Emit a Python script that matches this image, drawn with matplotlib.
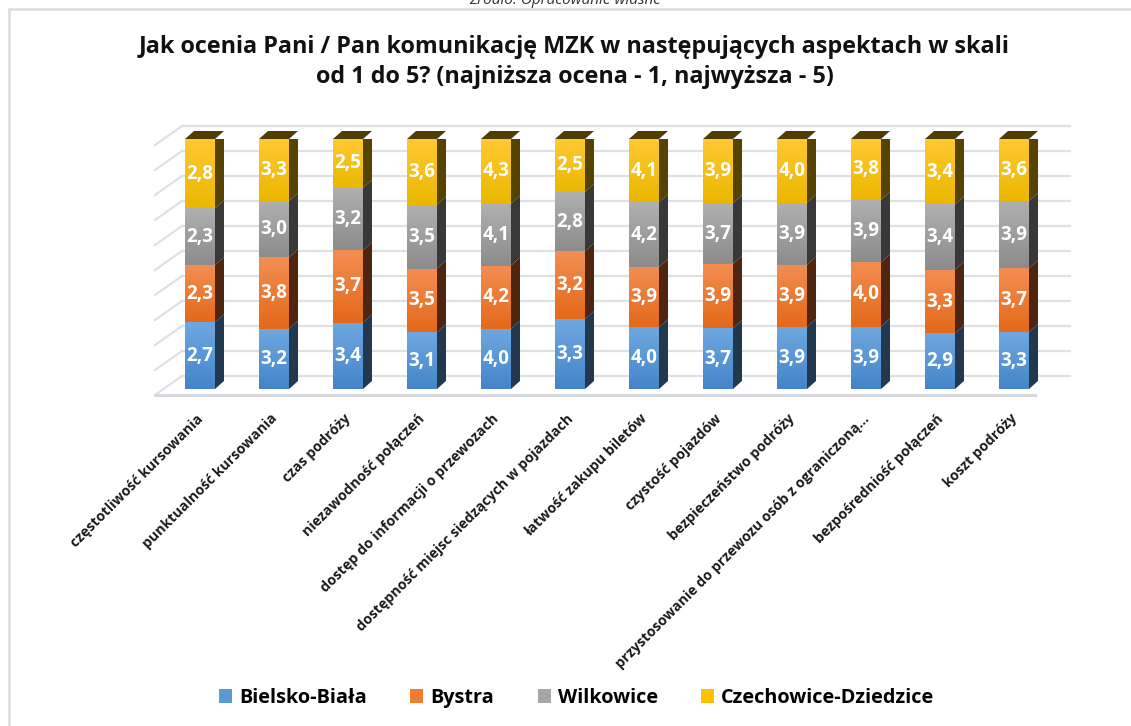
import numpy as np
import matplotlib
matplotlib.use('Agg')
import matplotlib.pyplot as plt
import matplotlib.transforms as mtransforms
from matplotlib.patches import Polygon, Rectangle

# Data (average rating 1-5 per town)
categories = [
    'częstotliwość kursowania',
    'punktualność kursowania',
    'czas podróży',
    'niezawodność połączeń',
    'dostęp do informacji o przewozach',
    'dostępność miejsc siedzących w pojazdach',
    'łatwość zakupu biletów',
    'czystość pojazdów',
    'bezpieczeństwo podróży',
    'przystosowanie do przewozu osób z ograniczoną…',
    'bezpośredniość połączeń',
    'koszt podróży',
]
series_names = ['Bielsko-Biała', 'Bystra', 'Wilkowice', 'Czechowice-Dziedzice']
bielsko = [2.7, 3.2, 3.4, 3.1, 4.0, 3.3, 4.0, 3.7, 3.9, 3.9, 2.9, 3.3]
bystra = [2.3, 3.8, 3.7, 3.5, 4.2, 3.2, 3.9, 3.9, 3.9, 4.0, 3.3, 3.7]
wilkowice = [2.3, 3.0, 3.2, 3.5, 4.1, 2.8, 4.2, 3.7, 3.9, 3.9, 3.4, 3.9]
czechowice = [2.8, 3.3, 2.5, 3.6, 4.3, 2.5, 4.1, 3.9, 4.0, 3.8, 3.4, 3.6]

title = ('Jak ocenia Pani / Pan komunikację MZK w następujących aspektach w skali\n'
         'od 1 do 5? (najniższa ocena - 1, najwyższa - 5)')
source = 'Źródło: Opracowanie własne'

# colours: (top of gradient, bottom of gradient, side face)
colors = [
    ('#6FA8E0', '#4485C8', '#22384F'),
    ('#F28E52', '#E4691A', '#4E2610'),
    ('#B0B0B0', '#8C8C8C', '#383838'),
    ('#FFC933', '#EBB700', '#574300'),
]
legend_colors = ['#5B9BD5', '#ED7D31', '#A5A5A5', '#FFC000']
top_face = '#4F3D05'

plt.rcParams['font.family'] = ['Open Sans', 'DejaVu Sans']

DPI = 100
W, H = 1131, 726
fig = plt.figure(figsize=(W / DPI, H / DPI), dpi=DPI)
fig.patch.set_facecolor('white')

# chart area border (runs off the right/bottom edge)
fig.patches.append(Rectangle((9 / W, -0.1), 1.2, 1 - 9 / H + 0.1, transform=fig.transFigure,
                             facecolor='white', edgecolor='#D9DCE1', lw=1.8, zorder=-5))

ax = fig.add_axes([163 / W, 1 - 389 / H, 888 / W, 250 / H])
ax.set_xlim(-0.5, 11.5)
ax.set_ylim(0, 100)
ax.axis('off')

data = np.array([bielsko, bystra, wilkowice, czechowice])
pct = data / data.sum(axis=0) * 100
x = np.arange(len(categories))

px_x = 888 / 12.0   # pixels per x unit
px_y = 250 / 100.0  # pixels per y unit


def shifted(dx_px, dy_px):
    return ax.transData + mtransforms.ScaledTranslation(dx_px / DPI, dy_px / DPI, fig.dpi_scale_trans)


# gridlines: back wall, left wall and floor
grid_col = '#DDE0E5'
back = shifted(19, 13)
front = shifted(-8, -6)
for g in range(0, 101, 10):
    ax.plot([-0.5, 11.5], [g, g], color=grid_col, lw=1.6, transform=back, clip_on=False, zorder=0)
    # diagonal on the side wall
    p0 = ax.transData.transform((-0.5, g)) + np.array([-8, -6])
    p1 = ax.transData.transform((-0.5, g)) + np.array([19, 13])
    fig.lines.append(plt.Line2D([p0[0] / W, p1[0] / W], [p0[1] / H, p1[1] / H],
                                transform=fig.transFigure, color=grid_col, lw=1.6, zorder=-1))
ax.plot([-0.5, 11.5 - 8 / px_x], [0, 0], color='#D5D8DD', lw=2.2, transform=front,
        clip_on=False, zorder=0)

# bars with depth
width = 30 / px_x
ddx = 9 / px_x
ddy = 8 / px_y
bottom = np.zeros(len(x))
grad = np.linspace(1, 0, 64).reshape(-1, 1)
for s in range(4):
    c_top, c_bot, c_side = colors[s]
    cmap = matplotlib.colors.LinearSegmentedColormap.from_list('g%d' % s, [c_bot, c_top])
    bars = ax.bar(x, pct[s], width, bottom=bottom, color=c_bot, lw=0, zorder=3)
    for i, rect in enumerate(bars):
        x0 = rect.get_x()
        x1 = x0 + rect.get_width()
        y0 = rect.get_y()
        y1 = y0 + rect.get_height()
        im = ax.imshow(grad, extent=(x0, x1, y0, y1), cmap=cmap, aspect='auto', zorder=3.5,
                       interpolation='bilinear')
        im.set_clip_path(rect)
        side = Polygon([(x1, y0), (x1 + ddx, y0 + ddy), (x1 + ddx, y1 + ddy), (x1, y1)],
                       closed=True, facecolor=c_side, edgecolor='none', zorder=3)
        ax.add_patch(side)
        if s == 3:
            topf = Polygon([(x0, y1), (x1, y1), (x1 + ddx, y1 + ddy), (x0 + ddx, y1 + ddy)],
                           closed=True, facecolor=top_face, edgecolor='none', zorder=3,
                           clip_on=False)
            ax.add_patch(topf)
        ax.text(x[i], (y0 + y1) / 2, ('%.1f' % data[s, i]).replace('.', ','),
                ha='center', va='center', color='white', fontsize=13.5, fontweight='bold',
                zorder=5)
    bottom = bottom + pct[s]
ax.set_xlim(-0.5, 11.5)
ax.set_ylim(0, 100)

# category labels
for i, lab in enumerate(categories):
    ax.text(x[i] + 1 / px_x, -11.0, lab, rotation=45, rotation_mode='anchor', ha='right',
            va='center', fontsize=10.2, fontweight='bold', color='#1A1A1A', clip_on=False)

# title and source
fig.text(0.508, 1 - 62 / H, title, ha='center', va='center', fontsize=16.8,
         fontweight='bold', color='#111111', linespacing=1.3)
fig.text(0.5, 1 - -1 / H, source, ha='center', va='center', fontsize=11,
         style='italic', color='#333333')

# legend
handles = [Rectangle((0, 0), 1, 1, facecolor=c, edgecolor='none') for c in legend_colors]
fig.legend(handles, series_names, loc='center', bbox_to_anchor=(0.51, 1 - 698 / H), ncol=4,
           frameon=False, prop={'size': 14.3, 'weight': 'bold'}, handlelength=0.65,
           handleheight=0.65, handletextpad=0.35, columnspacing=2.2)

fig.savefig('out.png', dpi=DPI, facecolor='white')
